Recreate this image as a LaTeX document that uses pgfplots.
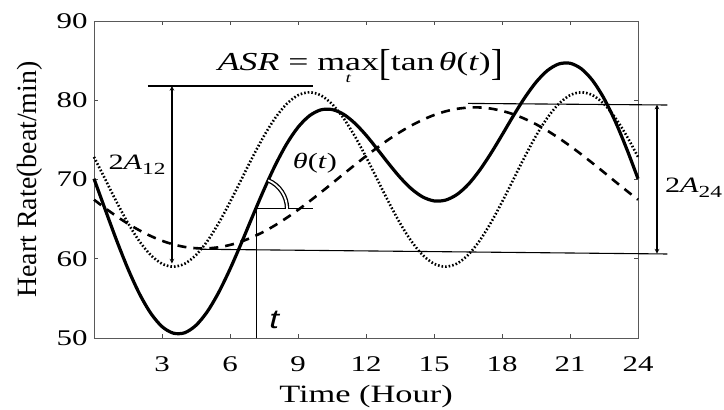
\documentclass[border=0pt]{standalone}
\usepackage{pgfplots}
\pgfplotsset{compat=1.18}
\usepackage{graphicx}
\usepackage{fontspec}
\setmainfont[FakeStretch=1.38]{Liberation Serif}
\newfontfamily\ylabfont{Liberation Serif}
\newfontfamily\tfont[FakeStretch=1.3]{Liberation Sans}

\pgfplotstableread{
t v
0 72.85
0.5 70
1 67.15
1.5 64.5
2 62.22
2.5 60.47
3 59.37
3.5 59
4 59.37
4.5 60.47
5 62.22
5.5 64.5
6 67.15
6.5 70
7 72.85
7.5 75.5
8 77.78
8.5 79.53
9 80.63
9.5 81
10 80.63
10.5 79.53
11 77.78
11.5 75.5
12 72.85
12.5 70
13 67.15
13.5 64.5
14 62.22
14.5 60.47
15 59.37
15.5 59
16 59.37
16.5 60.47
17 62.22
17.5 64.5
18 67.15
18.5 70
19 72.85
19.5 75.5
20 77.78
20.5 79.53
21 80.63
21.5 81
22 80.63
22.5 79.53
23 77.78
23.5 75.5
24 72.85
}\dotteddata

\pgfplotstableread{
t v
0 67.45
0.5 66.37
1 65.35
1.5 64.42
2 63.59
2.5 62.87
3 62.27
3.5 61.81
4 61.49
4.5 61.33
5 61.31
5.5 61.45
6 61.74
6.5 62.17
7 62.74
7.5 63.43
8 64.24
8.5 65.16
9 66.16
9.5 67.23
10 68.35
10.5 69.5
11 70.67
11.5 71.82
12 72.95
12.5 74.03
13 75.05
13.5 75.98
14 76.81
14.5 77.53
15 78.13
15.5 78.59
16 78.91
16.5 79.07
17 79.09
17.5 78.95
18 78.66
18.5 78.23
19 77.66
19.5 76.97
20 76.16
20.5 75.24
21 74.24
21.5 73.17
22 72.05
22.5 70.9
23 69.73
23.5 68.58
24 67.45
}\dasheddata

\pgfplotstableread{
t v
0 70.10
0.5 66.17
1 62.30
1.5 58.72
2 55.61
2.5 53.14
3 51.44
3.5 50.61
4 50.66
4.5 51.60
5 53.33
5.5 55.75
6 58.69
6.5 61.97
7 65.39
7.5 68.73
8 71.82
8.5 74.49
9 76.59
9.5 78.03
10 78.78
10.5 78.83
11 78.25
11.5 77.12
12 75.60
12.5 73.83
13 72.00
13.5 70.28
14 68.83
14.5 67.80
15 67.30
15.5 67.39
16 68.08
16.5 69.34
17 71.11
17.5 73.25
18 75.61
18.5 78.03
19 80.31
19.5 82.27
20 83.74
20.5 84.57
21 84.67
21.5 83.97
22 82.48
22.5 80.23
23 77.31
23.5 73.88
24 70.10
}\soliddata

\newcommand{\bigbrk}[1]{\raisebox{-0.2em}{\scalebox{1.0}[1.45]{#1}}}

\begin{document}
\begin{tikzpicture}
\useasboundingbox (-94bp,-72bp) rectangle (630bp,338bp);
\begin{axis}[
  scale only axis,
  width=544bp, height=317bp,
  xmin=0, xmax=24, ymin=50, ymax=90,
  xtick={3,6,9,12,15,18,21,24},
  ytick={50,60,70,80,90},
  tick align=inside,
  major tick length=4bp,
  tick style={black!70, line width=0.6bp},
  axis line style={black!65, line width=0.9bp},
  /pgf/number format/assume math mode=true,
  tick label style={font=\fontsize{22.5}{22.5}\selectfont},
  xticklabel style={yshift=-15bp},
  yticklabel style={xshift=-3bp},
  xlabel={Time (Hour)},
  ylabel={\ylabfont Heart Rate(beat/min)},
  xlabel style={font=\fontsize{25}{25}\selectfont, at={(axis description cs:0.5,-0.205)}, anchor=base},
  ylabel style={font=\fontsize{28}{28}\selectfont, at={(axis description cs:-0.1066,0.5)}, anchor=base, rotate=0},
  clip=false,
]
\addplot[black, line width=3.2bp, smooth] table[x=t,y=v] {\soliddata};
\addplot[black, line width=2.6bp, dash pattern=on 1.6bp off 2bp, smooth] table[x=t,y=v] {\dotteddata};
\addplot[black, line width=2.6bp, dash pattern=on 9bp off 7bp, smooth] table[x=t,y=v] {\dasheddata};

% 2A_12 annotation
\draw[black, line width=1.1bp] (axis cs:2.38,81.8) -- (axis cs:9.66,81.8);
\draw[black, line width=1.1bp, <->, >=stealth] (axis cs:3.44,81.8) -- (axis cs:3.44,59.4);
\node[font=\fontsize{22}{22}\selectfont] at (axis cs:1.9,71.8) {2\textit{A}\raisebox{-5bp}{\fontsize{17}{17}\selectfont 12}};

% 2A_24 annotation
\draw[black, line width=1.1bp] (axis cs:16.5,79.6) -- (axis cs:25.3,79.4);
\draw[black, line width=1.1bp] (axis cs:4.7,61.2) -- (axis cs:25.3,60.6);
\draw[black, line width=1.1bp, <->, >=stealth] (axis cs:24.84,79.45) -- (axis cs:24.84,60.65);
\node[font=\fontsize{22}{22}\selectfont] at (axis cs:26.45,68.9) {2\textit{A}\raisebox{-5bp}{\fontsize{17}{17}\selectfont 24}};

% theta annotation
\draw[black, line width=1.1bp] (axis cs:7.15,50) -- (axis cs:7.15,66.3) -- (axis cs:9.66,66.3);
\draw[black, line width=1.3bp, double, double distance=1.8bp] (axis cs:7.15,66.3) ++(0:31bp) arc[start angle=0, end angle=67, radius=31bp];
\node[font=\fontsize{22}{22}\selectfont] at (axis cs:9.75,72.0) {\textit{θ}(\textit{t})};
\node[font=\tfont\fontsize{27}{27}\selectfont\itshape] at (axis cs:7.95,52.3) {t};

% ASR formula
\node[font=\fontsize{26}{26}\selectfont, anchor=base, inner sep=0pt] at (axis cs:11.75,83.8)
  {\textit{ASR} = $\mathop{\hbox{max}}\limits_{\lower6bp\hbox{\fontsize{14}{14}\selectfont\itshape t}}$\bigbrk{[}tan\,\textit{θ}(\textit{t})\bigbrk{]}};
\end{axis}
\end{tikzpicture}
\end{document}
